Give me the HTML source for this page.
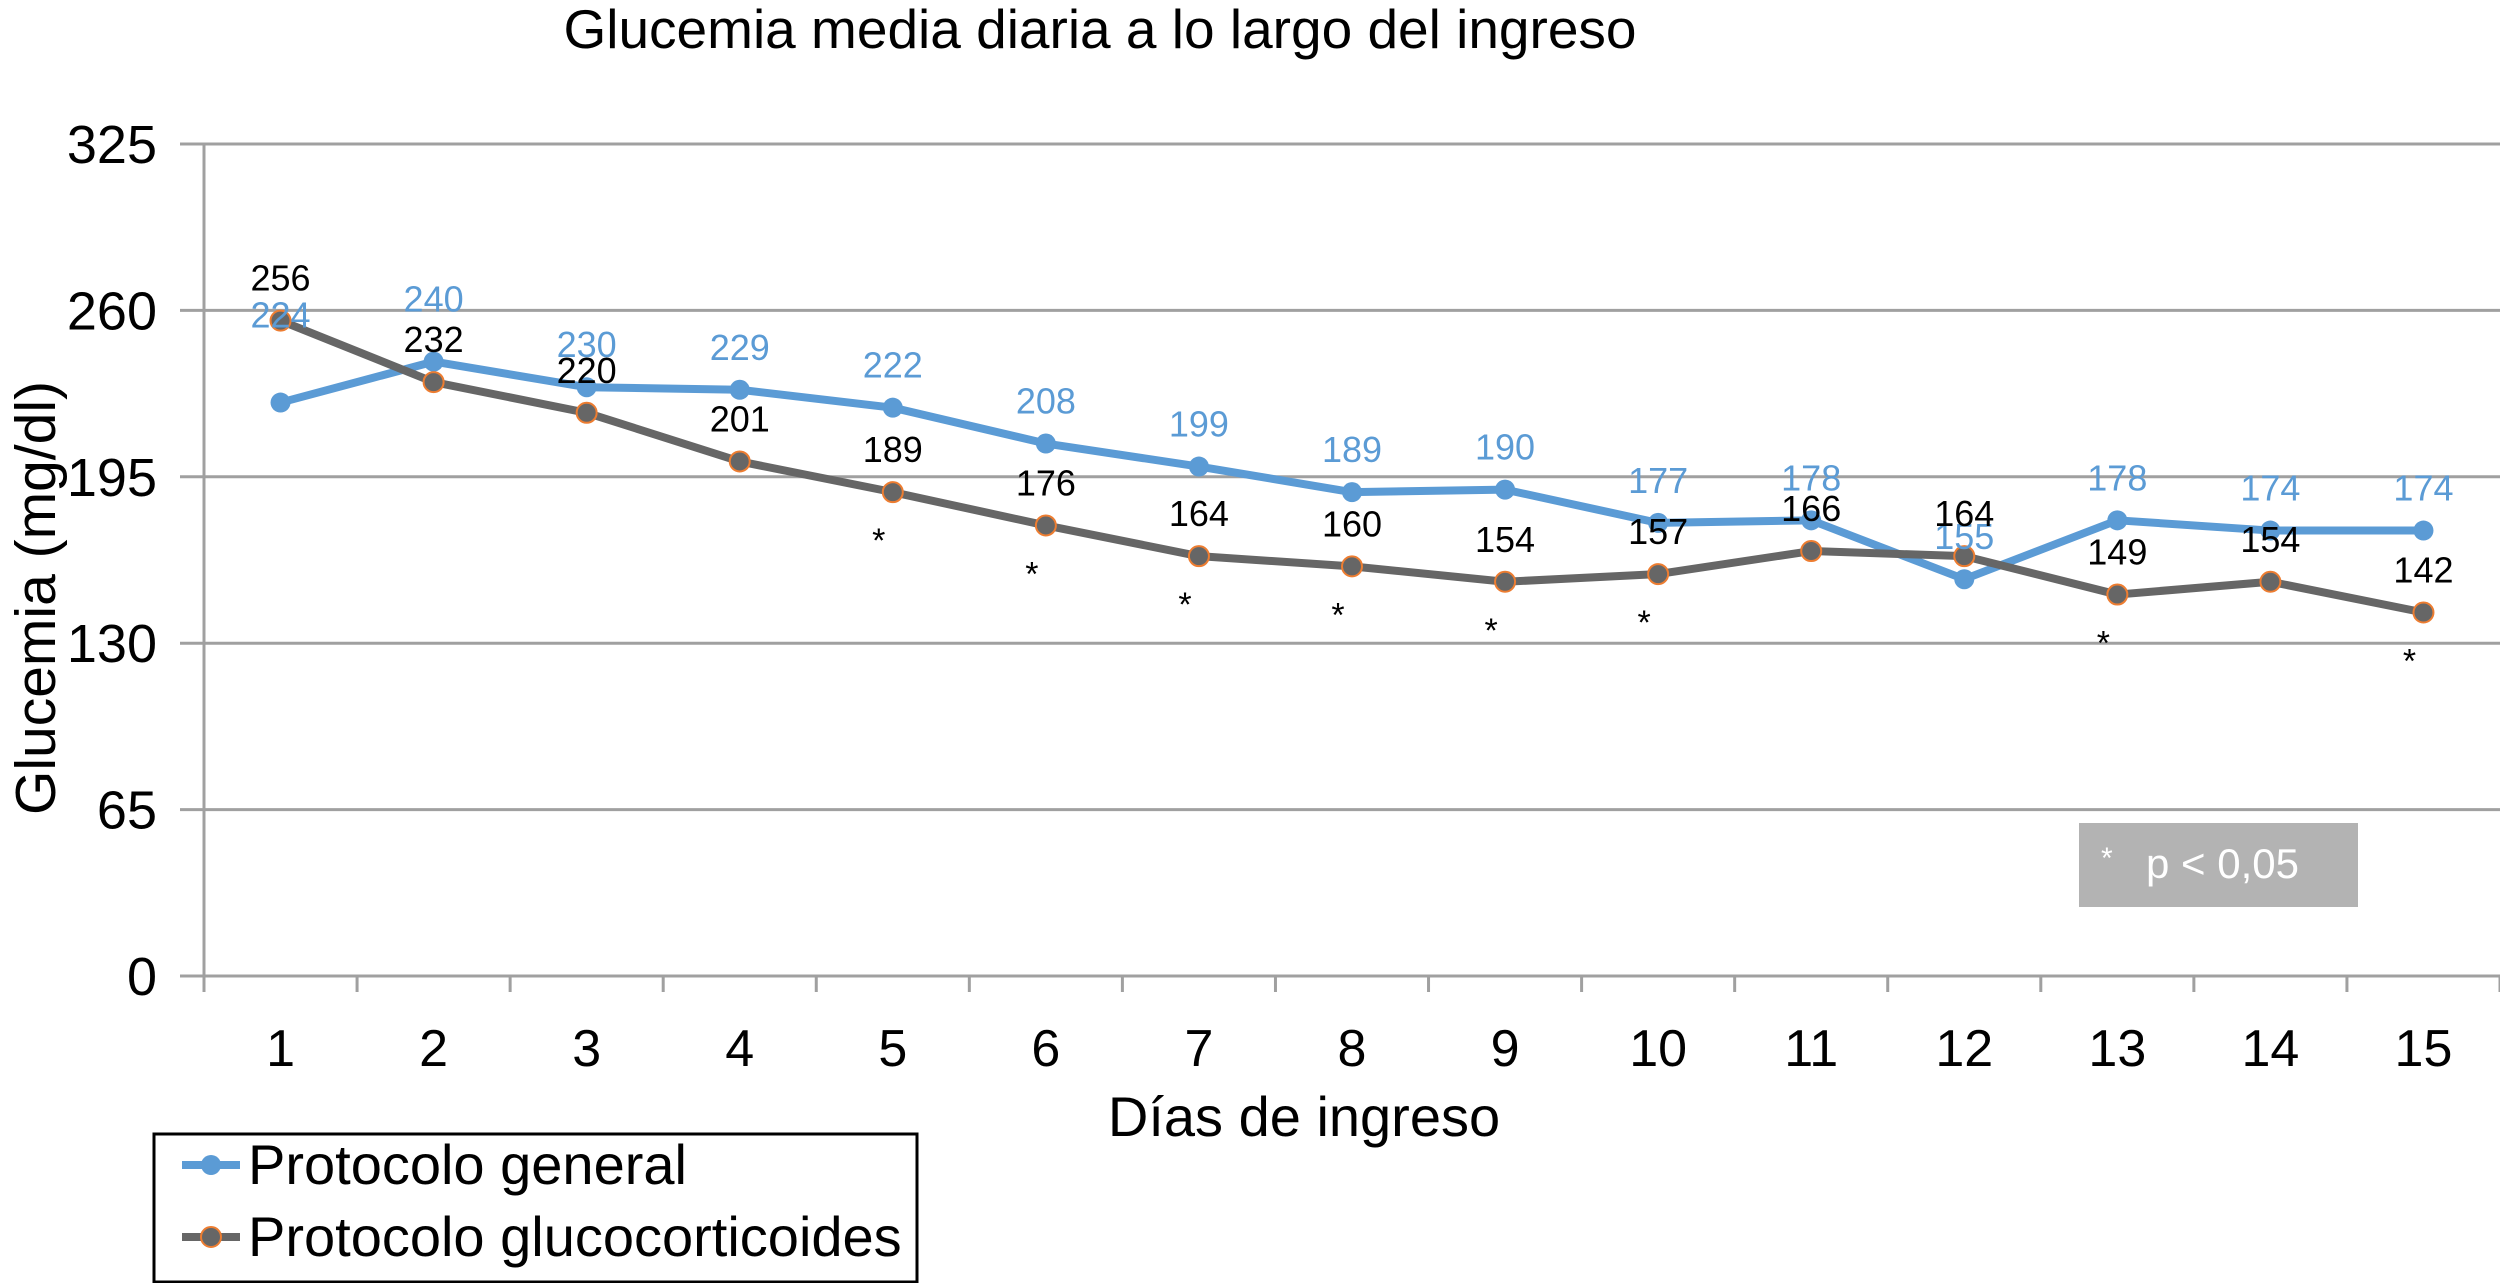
<!DOCTYPE html>
<html><head><meta charset="utf-8">
<style>
html,body{margin:0;padding:0;background:#fff;}
svg{display:block;font-family:"Liberation Sans",Arial,sans-serif;}
</style></head>
<body>
<svg id="chart" width="2500" height="1283" viewBox="0 0 2500 1283" xmlns="http://www.w3.org/2000/svg">
<text x="1100" y="48" font-size="55" text-anchor="middle" fill="#000">Glucemia media diaria a lo largo del ingreso</text>
<g id="grid"></g>
<g id="axes"></g>
<g id="series"></g>
<g id="labels"></g>
<text transform="translate(55,598) rotate(-90)" font-size="57" text-anchor="middle" fill="#000">Glucemia (mg/dl)</text>
<text x="1304" y="1136" font-size="56" text-anchor="middle" fill="#000">Días de ingreso</text>
<g>
<rect x="2079" y="823" width="279" height="84" fill="#b3b3b3"/>
<text x="2101" y="868" font-size="30" fill="#fff">*</text>
<text x="2146" y="878" font-size="42" fill="#fff">p &lt; 0,05</text>
</g>
<g>
<rect x="154" y="1134" width="763" height="148" fill="#fff" stroke="#000" stroke-width="3"/>
<g>
<line x1="182" y1="1165" x2="240" y2="1165" stroke="#5b9bd5" stroke-width="8"/>
<circle cx="211" cy="1165" r="10" fill="#5b9bd5"/>
<text x="248" y="1184" font-size="56" fill="#000">Protocolo general</text>
</g>
<g>
<line x1="182" y1="1237" x2="240" y2="1237" stroke="#666" stroke-width="8"/>
<circle cx="211" cy="1237" r="10" fill="#666" stroke="#ed7d31" stroke-width="2"/>
<text x="248" y="1256" font-size="56" fill="#000">Protocolo glucocorticoides</text>
</g>
</g>
</svg>
<script>
const days = ["1","2","3","4","5","6","7","8","9","10","11","12","13","14","15"];
const general = [224,240,230,229,222,208,199,189,190,177,178,155,178,174,174];
const gluco = [256,232,220,201,189,176,164,160,154,157,166,164,149,154,142];
const significant = [false,false,false,false,true,true,true,true,true,true,false,false,true,false,true];
const yTicks = [0,65,130,195,260,325];

const NS="http://www.w3.org/2000/svg";
const X0=204,X1=2500,Y0=976,Y1=144,YMAX=325;
const bw=(X1-X0)/days.length;
const xs=i=>X0+bw*(i+0.5);
const ys=v=>Y0-(v/YMAX)*(Y0-Y1);
function mk(parent,tag,attrs,text){const e=document.createElementNS(NS,tag);for(const k in attrs)e.setAttribute(k,attrs[k]);if(text!==undefined)e.textContent=text;document.getElementById(parent).appendChild(e);return e;}

yTicks.forEach(t=>{
  const g=mk('grid','line',{x1:180,x2:X1,y1:ys(t),y2:ys(t),stroke:'#a0a0a0','stroke-width':3});
  
  
  const l=mk('axes','text',{x:157,y:ys(t)+19,'font-size':54,'text-anchor':'end',fill:'#000'},String(t));
  
  
});
const ya=mk('axes','line',{x1:X0,x2:X0,y1:Y1,y2:Y0,stroke:'#a0a0a0','stroke-width':3});


for(let i=0;i<=days.length;i++){
  const x=X0+bw*i;
  const tk=mk('axes','line',{x1:x,x2:x,y1:Y0,y2:Y0+16,stroke:'#a0a0a0','stroke-width':3});
  
  
}
days.forEach((d,i)=>{
  const t=mk('axes','text',{x:xs(i),y:1066,'font-size':52,'text-anchor':'middle',fill:'#000'},d);
  
  
});

function drawSeries(vals,color,stroke,name){
  const pts=vals.map((v,i)=>xs(i)+','+ys(v)).join(' ');
  const pl=mk('series','polyline',{points:pts,fill:'none',stroke:color,'stroke-width':8,'stroke-linejoin':'round'});
  
  
  vals.forEach((v,i)=>{
    const c=mk('series','circle',{cx:xs(i),cy:ys(v),r:10,fill:color,stroke:stroke||'none','stroke-width':2});
    
    
  });
}
drawSeries(general,'#5b9bd5',null,'general');
drawSeries(gluco,'#666666','#ed7d31','glucocorticoides');

general.forEach((v,i)=>{
  const off = i===0?80:(i===1?55:35);
  const t=mk('labels','text',{x:xs(i),y:ys(v)-off+5,'font-size':36,'text-anchor':'middle',fill:'#5b9bd5'},String(v));
  
  
});
gluco.forEach((v,i)=>{
  const t=mk('labels','text',{x:xs(i),y:ys(v)-30,'font-size':36,'text-anchor':'middle',fill:'#000'},String(v));
  
  
  if(significant[i]){
    const s=mk('labels','text',{x:xs(i)-14,y:ys(v)+60,'font-size':34,'text-anchor':'middle',fill:'#000'},'*');
    
    
  }
});
</script>
</body></html>
